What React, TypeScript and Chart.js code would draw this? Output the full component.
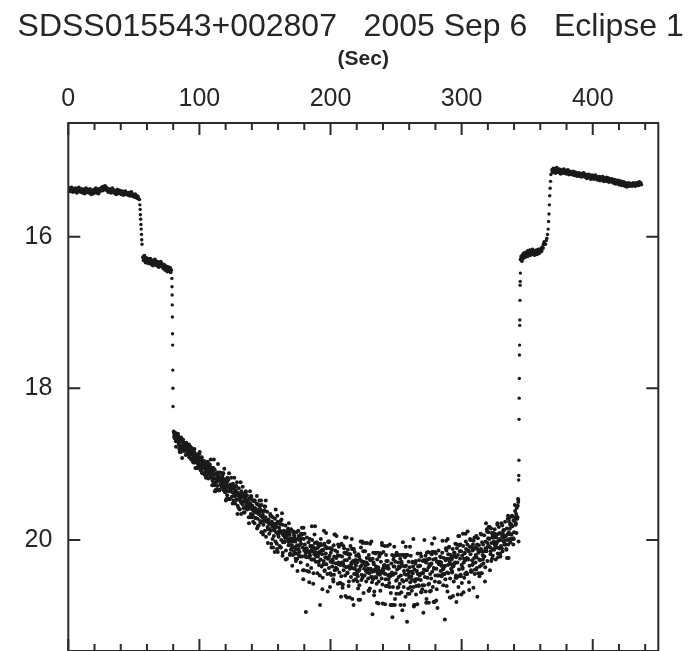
import React, { useEffect, useRef } from "react";
import { Chart, registerables } from "chart.js";

Chart.register(...registerables);

// ---------- text ----------
const TITLE = "SDSS015543+002807   2005 Sep 6   Eclipse 1";
const X_AXIS_TITLE = "(Sec)";

// ---------- ticks ----------
const xTickLabels = [0, 100, 200, 300, 400];
const xMinorTicks = [0, 20, 40, 60, 80, 100, 120, 140, 160, 180, 200, 220, 240, 260, 280, 300, 320, 340, 360, 380, 400, 420, 440];
const yTickLabels = [16, 18, 20];
const X_MIN = 0;
const X_MAX = 450;
const Y_MIN = 14.5;
const Y_MAX = 21.466;

// ---------- data (time in s, magnitude) ----------
// out-of-eclipse, before ingress: sampled every 0.5 s from t = 0
const preStart = 0;
const preStep = 0.5;
const preMag = [
  15.37, 15.39, 15.36, 15.40, 15.38, 15.35, 15.39, 15.41, 15.37, 15.38,
  15.40, 15.36, 15.38, 15.42, 15.39, 15.37, 15.35, 15.40, 15.38, 15.41,
  15.39, 15.37, 15.42, 15.40, 15.38, 15.43, 15.39, 15.36, 15.41, 15.40,
  15.38, 15.42, 15.40, 15.37, 15.41, 15.44, 15.39, 15.40, 15.43, 15.38,
  15.41, 15.39, 15.36, 15.42, 15.40, 15.38, 15.43, 15.37, 15.40, 15.39,
  15.37, 15.35, 15.39, 15.34, 15.38, 15.36, 15.33, 15.37, 15.35, 15.39,
  15.38, 15.41, 15.37, 15.40, 15.39, 15.42, 15.38, 15.36, 15.41, 15.40,
  15.42, 15.39, 15.41, 15.44, 15.40, 15.38, 15.43, 15.41, 15.39, 15.42,
  15.41, 15.44, 15.40, 15.42, 15.45, 15.41, 15.43, 15.40, 15.44, 15.42,
  15.43, 15.45, 15.42, 15.44, 15.46, 15.43, 15.41, 15.45, 15.44, 15.47,
  15.45, 15.47, 15.44, 15.48, 15.46, 15.49, 15.47, 15.50,
];

// white-dwarf ingress
const ingress1Time = [54.4, 54.6, 54.8, 55.0, 55.2, 55.4, 55.6, 55.8, 56.0, 56.2];
const ingress1Mag = [15.51, 15.58, 15.64, 15.71, 15.77, 15.84, 15.90, 15.97, 16.04, 16.10];

// bright spot still visible: every 0.5 s from t = 57
const midStart = 57;
const midStep = 0.5;
const midMag = [
  16.27, 16.31, 16.25, 16.30, 16.34, 16.28, 16.32, 16.29, 16.35, 16.30,
  16.33, 16.29, 16.36, 16.31, 16.34, 16.38, 16.32, 16.35, 16.30, 16.37,
  16.34, 16.38, 16.33, 16.36, 16.40, 16.35, 16.37, 16.33, 16.39, 16.36,
  16.38, 16.42, 16.37, 16.40, 16.44, 16.39, 16.41, 16.46, 16.40, 16.43,
  16.45, 16.41, 16.47, 16.44,
];

// bright-spot ingress
const ingress2Time = [79.0, 79.1, 79.2, 79.3, 79.4, 79.5, 79.6, 79.7, 79.8, 79.9];
const ingress2Mag = [16.55, 16.66, 16.77, 16.90, 17.06, 17.28, 17.43, 17.76, 18.00, 18.24];

// total eclipse, first set of frames: every 0.4 s from t = 80.4
const totalStartA = 80.4;
const totalStepA = 0.4;
const totalMagA = [
  18.57, 18.63, 18.66, 18.59, 18.70, 18.61, 18.64, 18.68, 18.60, 18.72,
  18.74, 18.67, 18.79, 18.70, 18.65, 18.76, 18.92, 18.71, 18.68, 18.77,
  18.83, 18.75, 18.78, 18.88, 18.72, 18.81, 18.76, 18.86, 18.79, 18.74,
  18.80, 18.91, 18.85, 18.78, 18.94, 18.87, 18.83, 18.97, 18.89, 18.84,
  18.98, 18.89, 18.94, 19.05, 18.87, 18.92, 19.00, 18.90, 18.96, 19.03,
  18.95, 19.07, 19.01, 18.93, 19.11, 19.03, 18.98, 19.05, 18.96, 19.14,
  19.10, 19.02, 19.15, 19.06, 18.99, 19.08, 19.19, 19.04, 19.12, 19.01,
  19.08, 19.17, 19.13, 19.05, 19.22, 19.10, 19.26, 19.14, 19.07, 19.19,
  19.24, 19.13, 19.20, 19.29, 19.16, 19.11, 19.22, 19.35, 19.18, 19.27,
  19.19, 19.30, 19.26, 19.15, 19.33, 19.22, 19.28, 19.20, 19.37, 19.24,
  19.34, 19.25, 19.41, 19.29, 19.21, 19.36, 19.31, 19.46, 19.27, 19.33,
  19.31, 19.43, 19.37, 19.26, 19.48, 19.39, 19.33, 19.52, 19.35, 19.29,
  19.47, 19.38, 19.55, 19.41, 19.32, 19.45, 19.60, 19.40, 19.50, 19.36,
  19.44, 19.53, 19.39, 19.58, 19.49, 19.64, 19.46, 19.37, 19.55, 19.51,
  19.60, 19.48, 19.56, 19.70, 19.45, 19.59, 19.52, 19.66, 19.43, 19.57,
  19.55, 19.67, 19.62, 19.49, 19.78, 19.58, 19.71, 19.64, 19.52, 19.85,
  19.72, 19.60, 19.81, 19.64, 19.55, 19.75, 19.68, 19.90, 19.62, 19.70,
  19.67, 19.80, 19.74, 19.61, 19.88, 19.70, 19.96, 19.76, 19.63, 19.83,
  19.85, 19.73, 19.92, 19.79, 19.66, 19.88, 20.05, 19.76, 19.82, 19.70,
  19.79, 19.95, 19.86, 19.72, 20.02, 19.90, 19.83, 20.12, 19.76, 19.93,
  19.96, 19.84, 20.08, 19.88, 19.75, 20.00, 19.91, 19.80, 20.17, 19.94,
  19.88, 20.03, 19.97, 19.81, 20.14, 19.92, 20.25, 19.99, 19.85, 20.07,
  20.06, 19.93, 20.18, 19.98, 19.86, 20.11, 20.34, 20.02, 19.90, 20.15,
  19.97, 20.10, 20.02, 20.28, 19.90, 20.07, 20.41, 20.13, 19.95, 20.21,
  20.16, 20.01, 20.30, 20.05, 19.93, 20.22, 20.10, 20.52, 19.99, 20.14,
  20.06, 20.20, 20.95, 20.11, 19.97, 20.33, 20.15, 20.03, 20.42, 20.18,
  20.21, 20.08, 20.37, 20.13, 20.00, 20.26, 20.58, 20.10, 20.19, 20.04,
  20.12, 20.29, 20.17, 20.03, 20.44, 20.22, 20.09, 20.33, 20.16, 20.86,
  20.26, 20.07, 20.35, 20.19, 20.50, 20.13, 20.28, 20.05, 20.40, 20.23,
  20.18, 20.32, 20.10, 20.45, 20.25, 20.03, 20.37, 20.21, 20.62, 20.29,
  20.46, 20.11, 20.35, 20.27, 20.52, 20.07, 20.22, 20.40, 20.14, 20.31,
  20.24, 20.38, 20.16, 20.58, 20.30, 20.09, 20.43, 20.21, 20.33, 20.75,
  20.05, 20.22, 20.63, 20.31, 20.40, 20.11, 20.27, 20.47, 20.18, 20.36,
  20.27, 20.44, 20.13, 20.35, 20.55, 20.24, 20.38, 20.08, 20.49, 20.30,
  20.12, 20.37, 20.28, 20.86, 20.45, 20.16, 20.31, 20.52, 20.21, 20.40,
  20.30, 20.48, 20.19, 20.41, 20.60, 20.26, 20.35, 20.10, 20.53, 20.33,
  20.50, 20.29, 20.70, 20.38, 20.47, 20.15, 20.34, 20.55, 20.24, 20.43,
  20.32, 20.51, 20.20, 20.44, 20.64, 20.27, 20.39, 20.02, 20.56, 20.98,
  20.52, 20.30, 20.73, 20.41, 20.49, 20.18, 20.35, 20.58, 20.26, 20.45,
  20.36, 20.55, 20.22, 20.46, 20.67, 20.29, 20.42, 20.04, 20.59, 20.38,
  20.16, 20.44, 20.33, 20.85, 20.52, 20.20, 20.37, 20.61, 20.28, 20.47,
  20.38, 20.57, 20.06, 20.48, 20.70, 20.31, 20.43, 21.02, 20.62, 20.26,
  20.22, 20.35, 20.78, 20.44, 20.54, 20.17, 20.39, 20.63, 20.30, 20.49,
  20.37, 20.58, 20.25, 20.47, 20.69, 20.32, 20.93, 20.03, 20.55, 20.41,
  20.45, 20.23, 20.75, 20.34, 20.53, 21.08, 20.40, 20.64, 20.29, 20.50,
  20.36, 20.56, 20.21, 20.48, 20.67, 20.30, 20.44, 19.99, 20.88, 20.39,
  20.55, 20.31, 20.72, 20.41, 20.52, 20.18, 20.35, 20.60, 20.27, 20.47,
  20.34, 20.53, 20.22, 20.44, 20.65, 20.28, 20.96, 20.39, 20.00, 20.49,
  20.21, 20.30, 20.78, 20.40, 20.50, 20.16, 20.36, 20.58, 20.25, 20.45,
  20.33, 20.51, 20.19, 20.42, 20.62, 20.26, 20.37, 19.98, 20.55, 20.47,
  20.18, 20.38, 20.29, 20.90, 20.47, 20.14, 20.32, 20.56, 20.22, 20.41,
  20.30, 20.48, 20.17, 20.39, 20.60, 20.24, 20.35, 21.05, 20.52, 20.11,
  20.14, 20.25, 20.68, 20.33, 20.44, 20.09, 20.29, 20.51, 20.20, 20.38,
  20.26, 20.43, 20.12, 20.35, 20.55, 20.21, 20.31, 20.05, 20.47, 20.82,
  20.11, 20.30, 20.20, 20.62, 20.39, 20.07, 20.25, 20.46, 20.15, 20.33,
  20.21, 20.38, 20.08, 20.30, 20.50, 20.17, 20.27, 20.02, 20.43, 20.24,
  20.06, 20.25, 20.14, 20.56, 20.34, 19.99, 20.19, 20.40, 20.10, 20.27,
  20.14, 20.31, 20.01, 20.24, 20.45, 20.10, 20.20, 19.95, 20.37, 20.75,
  19.98, 20.17, 20.07, 20.48, 20.27, 19.92, 20.12, 20.33, 20.03, 20.20,
  20.06, 20.22, 19.94, 20.15, 20.36, 20.02, 20.12, 19.86, 20.28, 20.09,
  19.90, 20.08, 19.99, 20.40, 20.19, 19.85, 20.04, 20.25, 19.95, 20.12,
  19.97, 20.13, 19.86, 20.07, 20.26, 19.94, 20.03, 19.80, 20.18, 20.01,
  19.83, 19.99, 19.91, 20.22, 20.08, 19.78, 19.95, 20.15, 19.88, 20.02,
  19.87, 20.01, 19.76, 19.96, 20.12, 19.85, 19.93, 19.72, 20.06, 19.90,
  19.71, 19.85, 20.03, 19.79, 19.93, 19.68, 19.82, 19.98, 19.74, 19.90,
  19.75, 19.62, 19.80, 19.66, 19.58, 19.72, 19.55, 19.50,
];

// total eclipse, second set of frames: every 0.4 s from t = 80.6
const totalStartB = 80.6;
const totalStepB = 0.4;
const totalMagB = [
  18.59, 18.65, 18.59, 18.66, 18.77, 18.61, 18.68, 18.66, 18.63, 18.66,
  18.80, 18.84, 18.77, 18.84, 18.70, 18.68, 18.70, 18.80, 18.72, 18.75,
  18.75, 18.82, 18.79, 18.77, 18.77, 18.87, 18.77, 18.75, 18.84, 18.91,
  18.87, 18.77, 18.82, 18.94, 18.94, 18.86, 18.80, 18.98, 18.91, 18.80,
  18.96, 19.05, 18.91, 19.05, 19.05, 18.91, 18.98, 18.94, 18.87, 18.84,
  19.01, 19.08, 18.96, 18.91, 19.12, 19.05, 19.00, 19.12, 19.00, 19.00,
  19.07, 19.18, 19.02, 19.04, 18.97, 19.11, 19.14, 19.00, 19.09, 19.06,
  18.94, 19.18, 19.05, 19.28, 19.18, 19.05, 18.94, 19.28, 19.36, 19.36,
  19.34, 19.24, 19.11, 19.34, 19.00, 19.14, 19.18, 19.34, 19.11, 19.20,
  19.20, 19.24, 19.17, 19.12, 19.12, 19.35, 19.06, 19.30, 19.35, 19.48,
  19.46, 19.23, 19.18, 19.30, 19.46, 19.12, 19.46, 19.36, 19.32, 19.18,
  19.32, 19.29, 19.52, 19.29, 19.32, 19.18, 19.42, 19.42, 19.36, 19.47,
  19.24, 19.66, 19.38, 19.58, 19.42, 19.42, 19.48, 19.24, 19.66, 19.44,
  19.50, 19.30, 19.50, 19.64, 19.41, 19.41, 19.44, 19.36, 19.59, 19.41,
  19.56, 19.50, 19.56, 19.78, 19.54, 19.36, 19.70, 19.42, 19.47, 19.70,
  19.60, 19.76, 19.48, 19.48, 19.48, 19.71, 19.60, 19.62, 19.42, 19.53,
  19.82, 19.66, 19.54, 19.48, 19.59, 19.77, 19.48, 19.54, 19.90, 19.62,
  19.93, 19.75, 19.62, 19.56, 19.56, 19.48, 19.75, 19.75, 19.75, 20.04,
  19.86, 19.78, 19.78, 19.86, 19.68, 19.68, 20.10, 19.78, 19.99, 20.10,
  19.87, 19.84, 20.16, 19.79, 19.60, 19.79, 20.05, 19.68, 20.16, 19.92,
  19.89, 19.89, 19.79, 20.10, 20.10, 19.73, 19.65, 20.21, 20.03, 19.92,
  20.02, 20.02, 19.97, 20.26, 19.89, 19.89, 19.94, 19.94, 20.02, 19.78,
  19.89, 20.20, 19.99, 20.13, 20.02, 20.07, 19.99, 20.20, 19.89, 19.94,
  19.99, 20.18, 20.25, 20.12, 20.18, 20.25, 19.99, 19.88, 20.12, 20.07,
  19.98, 20.22, 19.92, 19.98, 19.84, 19.92, 20.40, 19.84, 20.40, 19.92,
  20.12, 20.16, 20.23, 20.12, 20.41, 20.16, 20.23, 20.23, 20.56, 19.99,
  20.08, 20.15, 20.26, 19.82, 20.08, 20.15, 20.44, 20.26, 19.93, 19.82,
  20.18, 20.22, 20.18, 20.11, 20.05, 20.29, 20.29, 20.18, 20.47, 20.05,
  19.99, 20.14, 20.14, 20.65, 20.14, 20.32, 19.88, 20.41, 20.08, 20.32,
  19.91, 20.11, 20.24, 20.68, 20.02, 20.24, 20.02, 20.11, 20.44, 20.17,
  20.46, 20.13, 20.26, 20.30, 20.55, 20.46, 19.93, 19.93, 20.37, 20.37,
  19.95, 20.39, 20.21, 20.06, 20.32, 20.32, 20.57, 20.57, 20.06, 20.48,
  20.30, 20.59, 20.59, 20.08, 20.34, 20.17, 19.97, 20.74, 20.17, 19.97,
  20.76, 20.43, 20.19, 20.61, 20.19, 20.76, 20.19, 20.36, 20.32, 19.99,
  20.78, 20.12, 20.54, 20.12, 20.38, 20.27, 20.45, 20.34, 20.27, 20.45,
  20.55, 20.64, 20.79, 20.22, 20.39, 20.79, 20.02, 20.28, 20.46, 20.02,
  20.04, 20.15, 20.15, 20.30, 20.30, 20.04, 20.41, 20.30, 20.04, 20.41,
  20.38, 20.67, 20.67, 20.25, 20.05, 20.38, 20.49, 20.49, 20.42, 20.25,
  20.17, 20.32, 20.68, 20.39, 20.17, 20.39, 20.50, 20.83, 20.43, 20.17,
  20.84, 20.40, 20.18, 20.44, 20.18, 20.18, 20.51, 20.07, 20.84, 20.40,
  20.34, 20.34, 20.08, 20.45, 20.61, 20.28, 20.61, 20.08, 20.34, 20.52,
  20.46, 20.62, 20.46, 20.86, 20.46, 20.86, 20.20, 20.86, 20.46, 20.35,
  20.09, 20.86, 20.29, 20.20, 20.71, 20.53, 20.20, 20.20, 20.62, 20.35,
  20.71, 20.20, 20.86, 20.35, 20.29, 20.53, 20.20, 20.20, 20.62, 20.86,
  20.35, 20.20, 20.09, 20.46, 20.20, 20.20, 20.71, 20.46, 20.42, 20.71,
  20.09, 20.62, 20.42, 20.42, 20.53, 20.29, 20.35, 20.62, 20.86, 20.86,
  20.52, 20.28, 20.61, 20.41, 20.85, 20.45, 20.52, 20.61, 20.34, 20.45,
  20.18, 20.69, 20.69, 20.44, 20.60, 20.44, 20.27, 20.60, 20.27, 20.40,
  20.68, 20.83, 20.17, 20.26, 20.26, 20.59, 20.83, 20.32, 20.68, 20.17,
  20.67, 20.31, 20.05, 20.16, 20.16, 20.82, 20.38, 20.82, 20.16, 20.25,
  20.80, 20.65, 20.29, 20.29, 20.47, 20.56, 20.29, 20.29, 20.47, 20.23,
  20.34, 20.34, 20.01, 20.45, 20.38, 20.45, 20.45, 20.34, 20.27, 20.01,
  20.61, 20.43, 19.99, 20.19, 20.10, 20.25, 20.76, 20.32, 20.76, 20.32,
  20.41, 20.23, 20.74, 20.34, 20.17, 20.17, 20.30, 20.50, 20.23, 20.50,
  20.06, 20.72, 19.95, 20.48, 19.95, 20.15, 20.06, 20.48, 20.72, 20.57,
  20.36, 19.92, 20.69, 20.25, 20.18, 20.45, 19.92, 20.12, 20.45, 20.45,
  19.89, 20.26, 20.15, 20.66, 20.09, 20.00, 20.42, 20.00, 20.42, 20.33,
  20.06, 20.63, 20.12, 19.97, 20.39, 20.30, 20.39, 20.23, 20.06, 20.12,
  20.44, 20.15, 20.26, 20.35, 20.15, 20.44, 19.93, 20.44, 20.15, 20.26,
  20.31, 20.22, 20.22, 20.55, 20.11, 19.78, 20.15, 19.89, 20.04, 19.98,
  19.83, 19.83, 19.83, 20.10, 20.15, 20.28, 19.91, 19.97, 20.21, 19.91,
  20.02, 20.05, 19.92, 20.10, 19.97, 20.05, 20.10, 19.78, 20.23, 19.92,
  20.11, 20.11, 20.18, 20.00, 20.11, 20.11, 19.81, 19.92, 19.97, 19.87,
  20.06, 19.95, 20.06, 20.06, 20.13, 20.24, 20.00, 19.68, 20.24, 19.76,
  19.99, 19.80, 19.93, 19.80, 19.99, 19.69, 19.99, 20.06, 19.99, 19.75,
  19.54, 19.70, 19.78, 19.91, 19.70, 19.70, 19.46, 20.02,
];

// white-dwarf egress
const egress1Time = [343.4, 343.5, 343.6, 343.7, 343.8, 343.9, 344.0, 344.1, 344.2, 344.3, 344.4, 344.5, 344.6, 344.7, 344.8];
const egress1Mag = [19.47, 19.21, 19.15, 18.95, 18.41, 18.13, 17.87, 17.56, 17.43, 17.17, 17.10, 16.84, 16.64, 16.59, 16.48];

// bright spot still hidden: every 0.5 s from t = 345
const postStart = 345;
const postStep = 0.5;
const postMag = [
  16.30, 16.26, 16.32, 16.24, 16.28, 16.22, 16.27, 16.25, 16.21, 16.26,
  16.23, 16.19, 16.25, 16.21, 16.18, 16.24, 16.20, 16.23, 16.17, 16.22,
  16.20, 16.24, 16.19, 16.22, 16.18, 16.23, 16.21, 16.17, 16.22, 16.19,
  16.20, 16.16, 16.19, 16.14, 16.15, 16.10, 16.07,
];

// bright-spot egress
const egress2Time = [364.0, 364.5, 365.0, 365.5, 366.0, 366.3, 366.6, 366.9, 367.2, 367.5, 367.8, 368.1];
const egress2Mag = [16.10, 16.05, 16.02, 15.97, 15.90, 15.80, 15.70, 15.58, 15.46, 15.36, 15.27, 15.18];

// out-of-eclipse after egress: every 0.5 s from t = 369
const afterStart = 369;
const afterStep = 0.5;
const afterMag = [
  15.12, 15.15, 15.10, 15.14, 15.11, 15.16, 15.13, 15.09, 15.14, 15.12,
  15.15, 15.11, 15.14, 15.17, 15.12, 15.15, 15.13, 15.16, 15.11, 15.14,
  15.16, 15.13, 15.17, 15.14, 15.12, 15.16, 15.18, 15.14, 15.15, 15.17,
  15.15, 15.18, 15.14, 15.17, 15.19, 15.15, 15.18, 15.16, 15.20, 15.17,
  15.19, 15.16, 15.20, 15.18, 15.17, 15.21, 15.18, 15.20, 15.16, 15.19,
  15.21, 15.18, 15.20, 15.23, 15.19, 15.21, 15.18, 15.22, 15.20, 15.24,
  15.21, 15.19, 15.23, 15.20, 15.24, 15.22, 15.19, 15.23, 15.21, 15.25,
  15.22, 15.24, 15.21, 15.26, 15.23, 15.22, 15.25, 15.21, 15.24, 15.27,
  15.23, 15.26, 15.24, 15.22, 15.27, 15.25, 15.23, 15.28, 15.24, 15.26,
  15.27, 15.24, 15.28, 15.26, 15.29, 15.25, 15.27, 15.30, 15.26, 15.28,
  15.29, 15.26, 15.31, 15.28, 15.30, 15.27, 15.32, 15.29, 15.31, 15.28,
  15.30, 15.33, 15.29, 15.31, 15.34, 15.30, 15.32, 15.29, 15.33, 15.31,
  15.32, 15.30, 15.33, 15.31, 15.29, 15.32, 15.30, 15.33, 15.31, 15.29,
  15.31, 15.29, 15.32, 15.28, 15.30, 15.29, 15.31,
];

// ---------- helpers ----------
type Pt = { x: number; y: number };
const sampled = (t0: number, dt: number, mags: number[]): Pt[] =>
  mags.map((m, i) => ({ x: Math.round((t0 + i * dt) * 100) / 100, y: m }));
const paired = (times: number[], mags: number[]): Pt[] =>
  mags.map((m, i) => ({ x: times[i], y: m }));

const INK = "#1a1a1a";
const TEXT = "#262626";
const FONT = "'Liberation Sans', Arial, Helvetica, sans-serif";

const framePlugin = {
  id: "frameTicks",
  afterDraw(chart: any) {
    const { ctx, chartArea, scales } = chart;
    const { left, right, top, bottom } = chartArea;
    const x = scales.x;
    const y = scales.y;
    ctx.save();
    ctx.strokeStyle = "#2b2b2b";
    ctx.lineWidth = 2;
    ctx.strokeRect(left, top, right - left, bottom - top);
    ctx.beginPath();
    for (const v of xMinorTicks) {
      const px = x.getPixelForValue(v);
      const len = xTickLabels.includes(v) ? 12 : 7;
      ctx.moveTo(px, top);
      ctx.lineTo(px, top + len);
      ctx.moveTo(px, bottom);
      ctx.lineTo(px, bottom - len);
    }
    for (const v of yTickLabels) {
      const py = y.getPixelForValue(v);
      ctx.moveTo(left, py);
      ctx.lineTo(left + 12, py);
      ctx.moveTo(right, py);
      ctx.lineTo(right - 12, py);
    }
    ctx.stroke();
    ctx.restore();
  },
};

const noEdgePadding = (s: any) => {
  s.paddingTop = 0;
  s.paddingBottom = 0;
  s.paddingLeft = 0;
  s.paddingRight = 0;
};

export default function App() {
  const ref = useRef<HTMLCanvasElement | null>(null);

  useEffect(() => {
    if (!ref.current) return;
    const dot = (r: number) => ({
      pointRadius: r,
      pointHoverRadius: r,
      pointBorderWidth: 0,
      pointBackgroundColor: INK,
      backgroundColor: INK,
      borderColor: INK,
      showLine: false,
    });
    const band = dot(2.0);
    const edge = dot(1.7);
    const chart = new Chart(ref.current, {
      type: "scatter",
      data: {
        datasets: [
          { label: "pre", data: sampled(preStart, preStep, preMag), ...band },
          { label: "ingress1", data: paired(ingress1Time, ingress1Mag), ...edge },
          { label: "mid", data: sampled(midStart, midStep, midMag), ...band },
          { label: "ingress2", data: paired(ingress2Time, ingress2Mag), ...edge },
          { label: "totalA", data: sampled(totalStartA, totalStepA, totalMagA), ...band },
          { label: "totalB", data: sampled(totalStartB, totalStepB, totalMagB), ...band },
          { label: "egress1", data: paired(egress1Time, egress1Mag), ...edge },
          { label: "post", data: sampled(postStart, postStep, postMag), ...band },
          { label: "egress2", data: paired(egress2Time, egress2Mag), ...edge },
          { label: "after", data: sampled(afterStart, afterStep, afterMag), ...band },
        ],
      },
      options: {
        animation: false,
        responsive: false,
        maintainAspectRatio: false,
        devicePixelRatio: 1,
        layout: { autoPadding: false, padding: { left: 8.4, right: 0, top: 0, bottom: 0 } },
        plugins: {
          legend: { display: false },
          tooltip: { enabled: false },
          title: {
            display: true,
            text: TITLE,
            color: TEXT,
            font: { family: FONT, size: 32, weight: "normal" },
            padding: { top: 8, bottom: 0 },
          },
        },
        scales: {
          x: {
            type: "linear",
            position: "top",
            min: X_MIN,
            max: X_MAX,
            afterBuildTicks: (s: any) => {
              s.ticks = xTickLabels.map((v) => ({ value: v }));
            },
            afterFit: (s: any) => {
              s.height = 76.6;
              noEdgePadding(s);
            },
            ticks: {
              color: TEXT,
              font: { family: FONT, size: 25 },
              padding: 9,
              maxRotation: 0,
              autoSkip: false,
            },
            grid: { display: false, drawTicks: false },
            border: { display: false },
            title: {
              display: true,
              text: X_AXIS_TITLE,
              color: TEXT,
              font: { family: FONT, size: 21, weight: "bold" },
              padding: { top: 0, bottom: 0 },
            },
          },
          y: {
            type: "linear",
            position: "left",
            reverse: true,
            min: Y_MIN,
            max: Y_MAX,
            afterBuildTicks: (s: any) => {
              s.ticks = yTickLabels.map((v) => ({ value: v }));
            },
            afterFit: (s: any) => {
              s.width = 59.9;
              noEdgePadding(s);
            },
            ticks: {
              color: TEXT,
              font: { family: FONT, size: 25 },
              padding: 16,
              autoSkip: false,
            },
            grid: { display: false, drawTicks: false },
            border: { display: false },
          },
          yRight: {
            type: "linear",
            position: "right",
            display: true,
            ticks: { display: false },
            grid: { display: false, drawTicks: false },
            border: { display: false },
            afterFit: (s: any) => {
              s.width = 34.7;
              noEdgePadding(s);
            },
          },
        },
      },
      plugins: [framePlugin],
    } as any);
    return () => chart.destroy();
  }, []);

  return (
    <div
      style={{
        position: "fixed",
        left: 0,
        top: 0,
        width: 693,
        height: 651,
        background: "#ffffff",
        overflow: "hidden",
      }}
    >
      <canvas ref={ref} width={693} height={651} style={{ display: "block", width: 693, height: 651 }} />
    </div>
  );
}
